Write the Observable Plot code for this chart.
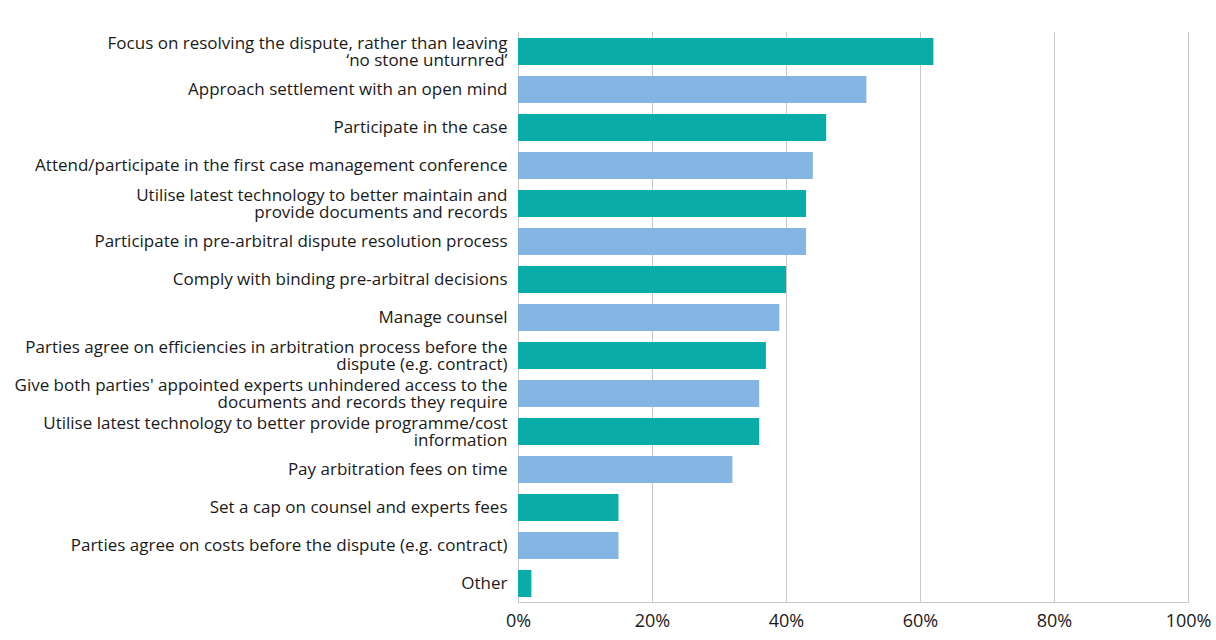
<!DOCTYPE html>
<html><head><meta charset="utf-8">
<script src="https://cdn.jsdelivr.net/npm/d3@7"></script>
<script src="https://cdn.jsdelivr.net/npm/@observablehq/plot@0.6"></script>
<style>body{margin:0;background:#fff;}</style>
</head><body><div id="chart"></div>
<script>
const categories = [
  "Focus on resolving the dispute, rather than leaving\n‘no stone unturnred’",
  "Approach settlement with an open mind",
  "Participate in the case",
  "Attend/participate in the first case management conference",
  "Utilise latest technology to better maintain and\nprovide documents and records",
  "Participate in pre-arbitral dispute resolution process",
  "Comply with binding pre-arbitral decisions",
  "Manage counsel",
  "Parties agree on efficiencies in arbitration process before the\ndispute (e.g. contract)",
  "Give both parties' appointed experts unhindered access to the\ndocuments and records they require",
  "Utilise latest technology to better provide programme/cost\ninformation",
  "Pay arbitration fees on time",
  "Set a cap on counsel and experts fees",
  "Parties agree on costs before the dispute (e.g. contract)",
  "Other"
];
const values = [62, 52, 46, 44, 43, 43, 40, 39, 37, 36, 36, 32, 15, 15, 2];
const xTicks = [0, 20, 40, 60, 80, 100];
const seriesColors = ["#0aaca8", "#85b6e3"];

const data = categories.map((c, i) => ({category: c, value: values[i], group: i % 2}));

const chart = Plot.plot({
  width: 1216, height: 640,
  marginLeft: 518, marginRight: 28, marginTop: 32, marginBottom: 38,
  style: {fontFamily: "'Open Sans', sans-serif", fontSize: "17px", color: "#1a1a1a", background: "#fff"},
  x: {domain: [0, 100]},
  y: {domain: categories, paddingInner: 0.3, paddingOuter: 0.15},
  color: {domain: [0, 1], range: seriesColors},
  marks: [
    Plot.gridX(xTicks, {stroke: "#c8c8c8", strokeOpacity: 1}),
    Plot.frame({anchor: "bottom", stroke: "#c8c8c8"}),
    Plot.barX(data, {y: "category", x: "value", fill: "group"}),
    Plot.axisX(xTicks, {tickSize: 0, tickPadding: 12, label: null, tickFormat: d => d + "%", fontSize: 18}),
    Plot.axisY({tickSize: 0, tickPadding: 11, label: null, lineHeight: 1.0, fontSize: 17})
  ]
});
document.getElementById("chart").appendChild(chart);
</script>
</body></html>
